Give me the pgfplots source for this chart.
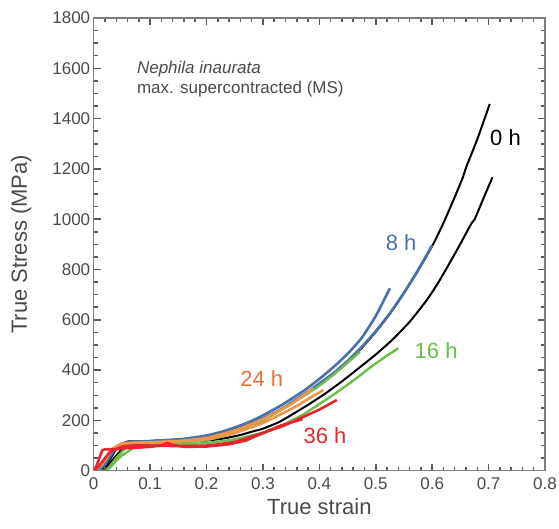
\documentclass[border=0pt]{standalone}
\usepackage{pgfplots}
\pgfplotsset{compat=1.18}
\usepackage{fontspec}
\setmainfont{Liberation Sans}
\definecolor{cblue}{HTML}{4A72AA}
\definecolor{cgreen}{HTML}{6CBD4C}
\definecolor{corange}{HTML}{F0964A}
\definecolor{clab24}{HTML}{E8703E}
\definecolor{cred}{HTML}{E4262C}
\definecolor{cframe}{HTML}{7E7E7E}
\definecolor{ctick}{HTML}{5A5A5A}
\definecolor{ctext}{HTML}{4A4A4A}
\begin{document}
\begin{tikzpicture}
\useasboundingbox (-93.7pt,-57.3pt) rectangle (465.3pt,470.7pt);
\begin{axis}[
  at={(0pt,0pt)}, anchor=south west,
  scale only axis, width=451.3pt, height=452.7pt,
  xmin=0, xmax=0.8, ymin=0, ymax=1800,
  xtick={0,0.1,...,0.8}, ytick={0,200,...,1800},
  xticklabels={0,0.1,0.2,0.3,0.4,0.5,0.6,0.7,0.8},
  minor x tick num=4, minor y tick num=3,
  xtick pos=both, ytick pos=both,
  tick align=inside,
  major tick length=7pt, minor tick length=4pt,
  axis on top,
  axis line style={cframe, line width=1.1pt},
  every tick/.append style={draw=ctick, line width=1.5pt},
  /pgf/number format/assume math mode=true,
  /pgf/number format/1000 sep={},
  tick label style={font=\fontsize{17}{20}\selectfont, text=ctext},
  xticklabel style={yshift=-3pt},
  label style={font=\fontsize{22}{26}\selectfont, text=ctext},
  xlabel={True strain},
  ylabel={True Stress (MPa)},
  xlabel style={yshift=-2pt},
  ylabel style={yshift=14pt},
  clip=true,
]
% 0 h upper
\addplot[black, line width=2pt, smooth, tension=0.35] coordinates {
(0,0) (0.01,5) (0.02,20) (0.03,50) (0.04,85) (0.05,105) (0.06,116) (0.08,117) (0.10,118) (0.12,121) (0.15,122) (0.18,128) (0.20,135) (0.23,150) (0.25,165) (0.28,188) (0.30,208) (0.33,240) (0.35,268) (0.38,312) (0.40,342) (0.425,385) (0.45,432) (0.475,488) (0.50,552) (0.525,624) (0.55,706) (0.575,796) (0.60,893) (0.62,985) (0.64,1088) (0.655,1170) (0.66,1205) (0.68,1318) (0.702,1458)};
% 0 h lower
\addplot[black, line width=2pt, smooth, tension=0.35] coordinates {
(0,0) (0.01,0) (0.02,10) (0.03,35) (0.04,60) (0.05,85) (0.06,100) (0.08,108) (0.10,110) (0.13,113) (0.16,116) (0.20,120) (0.23,128) (0.26,142) (0.28,155) (0.30,167) (0.33,195) (0.355,228) (0.38,262) (0.41,306) (0.44,355) (0.47,408) (0.50,462) (0.53,522) (0.56,592) (0.59,677) (0.61,745) (0.63,822) (0.65,902) (0.67,985) (0.675,998) (0.69,1078) (0.707,1167)};
% 8 h
\addplot[cblue, line width=2.6pt, smooth, tension=0.35] coordinates {
(0,0) (0.01,10) (0.02,35) (0.03,70) (0.04,95) (0.05,108) (0.07,115) (0.10,118) (0.13,122) (0.16,127) (0.20,140) (0.23,157) (0.26,180) (0.28,198) (0.30,220) (0.33,257) (0.35,285) (0.375,322) (0.40,365) (0.425,412) (0.45,465) (0.475,528) (0.50,615) (0.525,725)};
\addplot[cblue, line width=2.6pt, smooth, tension=0.35] coordinates {
(0,0) (0.01,5) (0.02,25) (0.03,60) (0.04,90) (0.05,105) (0.07,112) (0.10,115) (0.13,118) (0.16,122) (0.20,133) (0.23,148) (0.26,168) (0.28,188) (0.30,208) (0.33,242) (0.35,270) (0.38,315) (0.40,347) (0.425,388) (0.45,436) (0.475,492) (0.50,555) (0.525,626) (0.55,708) (0.575,798) (0.60,897)};
% 16 h
\addplot[cgreen, line width=2.4pt, smooth, tension=0.35] coordinates {
(0,0) (0.02,0) (0.03,20) (0.04,50) (0.05,75) (0.06,95) (0.08,105) (0.10,108) (0.15,112) (0.20,122) (0.25,150) (0.30,200) (0.35,265) (0.40,338) (0.435,400) (0.472,473)};
\addplot[cgreen, line width=2.4pt, smooth, tension=0.35] coordinates {
(0.01,0) (0.02,0) (0.03,15) (0.04,40) (0.05,60) (0.06,75) (0.07,90) (0.08,100) (0.10,103) (0.15,105) (0.20,110) (0.25,125) (0.30,152) (0.335,182) (0.37,222) (0.40,265) (0.43,310) (0.46,358) (0.49,410) (0.515,450) (0.54,487)};
% 24 h
\addplot[corange, line width=2.6pt, smooth, tension=0.35] coordinates {
(0,0) (0.01,15) (0.02,40) (0.03,75) (0.04,95) (0.05,105) (0.07,110) (0.10,112) (0.13,115) (0.16,118) (0.20,125) (0.25,150) (0.30,190) (0.35,245) (0.38,285) (0.407,320)};
\addplot[corange, line width=2.6pt, smooth, tension=0.35] coordinates {
(0,0) (0.02,45) (0.03,80) (0.05,108) (0.10,113) (0.15,118) (0.20,130) (0.25,160) (0.30,205) (0.35,265) (0.389,328)};
% 36 h
\addplot[cred, line width=2.6pt] coordinates {
(0,0) (0.005,20) (0.01,50) (0.015,80) (0.02,85) (0.04,86) (0.06,90) (0.08,92) (0.10,95) (0.12,100) (0.13,110) (0.14,102) (0.16,95) (0.20,96) (0.24,105) (0.27,120) (0.29,140) (0.31,158) (0.336,178) (0.36,202) (0.40,243) (0.431,281)};
\addplot[cred, line width=2.6pt, smooth, tension=0.35] coordinates {
(0,0) (0.01,20) (0.02,50) (0.03,75) (0.05,95) (0.07,100) (0.10,100) (0.15,98) (0.20,100) (0.25,115) (0.30,150) (0.33,178) (0.37,205)};
% labels
\node[font=\fontsize{22}{26}\selectfont, text=black] at (axis cs:0.730,1323) {0 h};
\node[font=\fontsize{22}{26}\selectfont, text=cblue] at (axis cs:0.545,905) {8 h};
\node[font=\fontsize{22}{26}\selectfont, text=cgreen] at (axis cs:0.607,479) {16 h};
\node[font=\fontsize{22}{26}\selectfont, text=clab24] at (axis cs:0.298,368) {24 h};
\node[font=\fontsize{22}{26}\selectfont, text=cred] at (axis cs:0.410,141) {36 h};
\node[anchor=base west, font=\fontsize{17}{20}\selectfont\itshape, text=ctext, inner sep=0pt] at (axis cs:0.0765,1581) {Nephila inaurata};
\node[anchor=base west, font=\fontsize{17}{20}\selectfont, text=ctext, inner sep=0pt] at (axis cs:0.0765,1498) {max. supercontracted (MS)};
\end{axis}
\end{tikzpicture}
\end{document}
